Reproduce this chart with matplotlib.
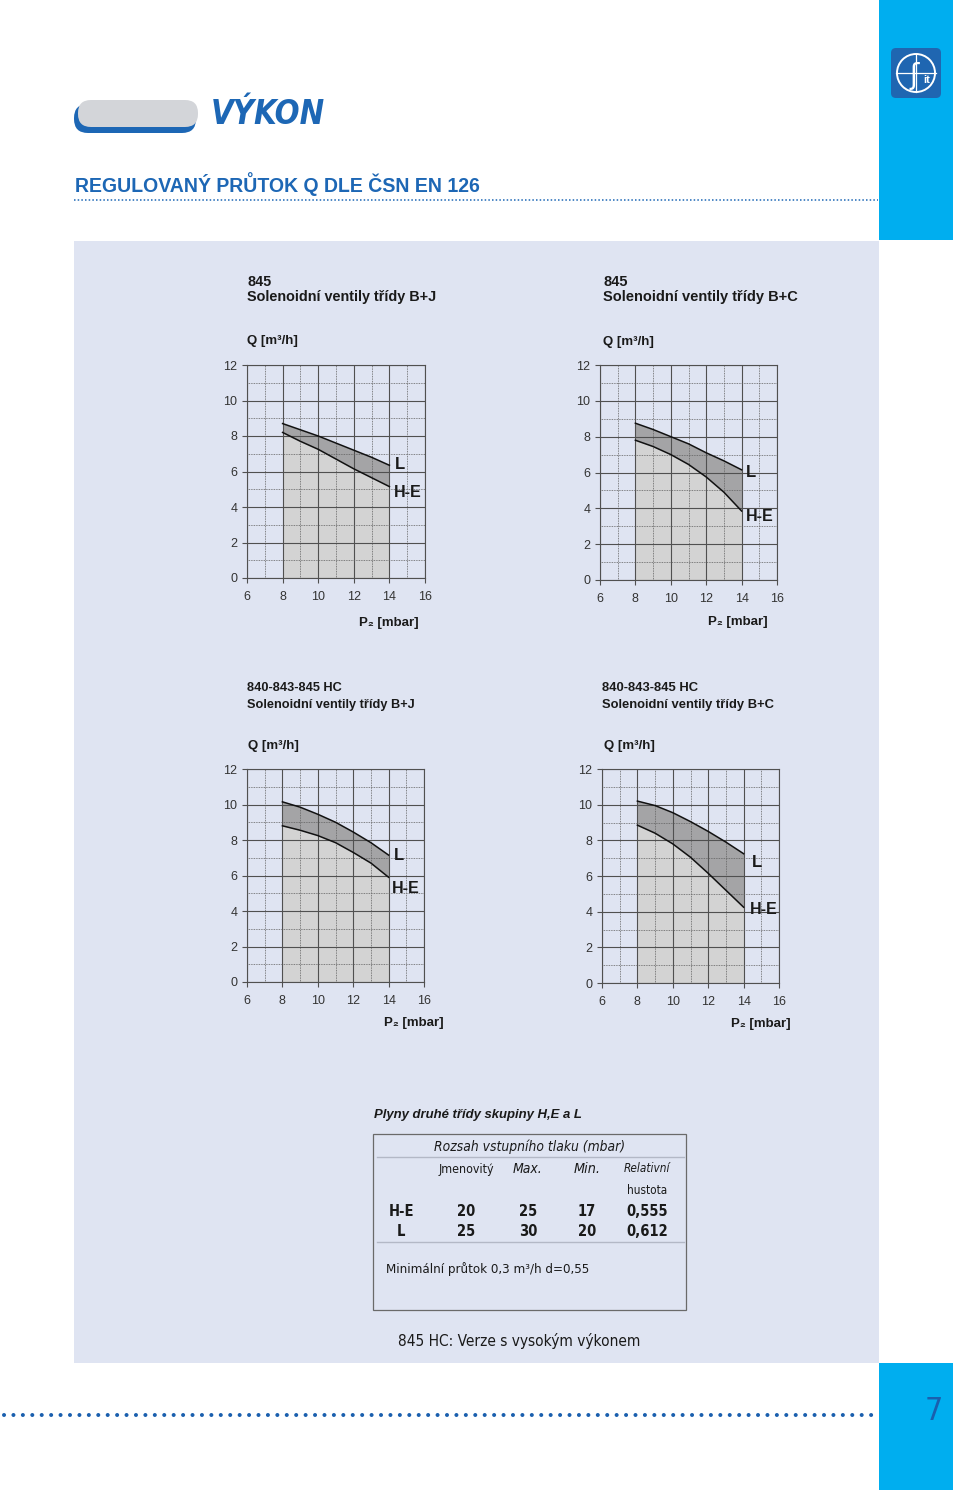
import matplotlib
matplotlib.use('Agg')
from matplotlib import pyplot as plt
from matplotlib import font_manager
from matplotlib.patches import Rectangle, FancyBboxPatch, Circle
from matplotlib.ticker import MultipleLocator

SANS = ['Liberation Sans', 'DejaVu Sans']
plt.rcParams['font.family'] = SANS

# pick a narrow face for the condensed page texts, if one is installed
names = {f.name for f in font_manager.fontManager.ttflist}
if 'Liberation Sans Narrow' in names:
    NK = dict(family=['Liberation Sans Narrow', 'DejaVu Sans'])
elif 'DejaVu Sans Condensed' in names:
    NK = dict(family=['DejaVu Sans Condensed', 'DejaVu Sans'])
elif any(f.name == 'DejaVu Sans' and f.stretch == 'condensed' for f in font_manager.fontManager.ttflist):
    NK = dict(family=['DejaVu Sans'], stretch='condensed')
else:
    NK = dict(family=SANS)

# data
p2 = [8, 9, 10, 11, 12, 13, 14]
q_845_bj_L = [8.7, 8.35, 8.0, 7.6, 7.2, 6.8, 6.35]
q_845_bj_HE = [8.2, 7.7, 7.25, 6.7, 6.15, 5.65, 5.15]
q_845_bc_L = [8.75, 8.4, 8.0, 7.6, 7.1, 6.65, 6.15]
q_845_bc_HE = [7.8, 7.45, 7.0, 6.45, 5.75, 4.9, 3.85]
q_hc_bj_L = [10.15, 9.85, 9.45, 9.0, 8.45, 7.85, 7.15]
q_hc_bj_HE = [8.8, 8.55, 8.25, 7.85, 7.3, 6.7, 5.9]
q_hc_bc_L = [10.2, 9.95, 9.55, 9.05, 8.5, 7.9, 7.25]
q_hc_bc_HE = [8.85, 8.4, 7.8, 7.05, 6.15, 5.2, 4.25]

chart_titles = ['845', '845', '840-843-845 HC', '840-843-845 HC']
chart_subtitles = ['Solenoidní ventily třídy B+J', 'Solenoidní ventily třídy B+C',
                   'Solenoidní ventily třídy B+J', 'Solenoidní ventily třídy B+C']

gases = ['H-E', 'L']
p_nominal = ['20', '25']
p_max = ['25', '30']
p_min = ['17', '20']
rel_density = ['0,555', '0,612']

BLUE = '#1d67b5'
CYAN = '#00aeef'
PANEL = '#dfe4f2'
TXT = '#1a1a1a'

fig = plt.figure(figsize=(9.6, 14.9), dpi=100)
bg = fig.add_axes([0, 0, 1, 1])
bg.set_xlim(0, 960)
bg.set_ylim(1490, 0)
bg.axis('off')
renderer = fig.canvas.get_renderer()


def put(x, y, s, width=None, **kw):
    # text in page pixels; optionally scaled so it spans the given width
    t = bg.text(x, y, s, **kw)
    if width:
        w = t.get_window_extent(renderer).width
        t.set_fontsize(t.get_fontsize() * width / w)
    return t


# page decoration
bg.add_patch(Rectangle((879, 0), 74, 240, color=CYAN, lw=0))
bg.add_patch(Rectangle((879, 1363), 74, 127, color=CYAN, lw=0))
bg.add_patch(Rectangle((74, 241), 805, 1122, color=PANEL, lw=0))

# logo
bg.add_patch(FancyBboxPatch((894, 51), 44, 44, boxstyle='round,pad=3,rounding_size=5',
                            fc='#1f66b1', ec='none'))
bg.add_patch(Circle((916, 73), 19, fc='none', ec='white', lw=1.4))
bg.plot([896, 936], [73, 73], color='white', lw=0.9)
bg.plot([916, 916], [54, 92], color='white', lw=0.9)
bg.text(914, 76, 'ʃ', color='white', fontsize=20, ha='center', va='center', family='DejaVu Sans')
bg.text(927, 80, 'it', color='white', fontsize=8, fontweight='bold', ha='center', va='center')

# header
bg.add_patch(FancyBboxPatch((74, 104), 122, 29, boxstyle='round,pad=0,rounding_size=14',
                            fc=BLUE, ec='none'))
bg.add_patch(FancyBboxPatch((78, 100), 120, 27, boxstyle='round,pad=0,rounding_size=13',
                            fc='#d3d5d9', ec='none'))
put(211, 115, 'VÝKON', width=114, color=BLUE, fontsize=27, fontweight='bold', style='italic',
    ha='left', va='center', **NK)
put(75, 184, 'REGULOVANÝ PRŮTOK Q DLE ČSN EN 126', width=408, color=BLUE, fontsize=14.5,
    fontweight='bold', ha='left', va='center')
bg.plot([74, 878], [200, 200], color=BLUE, lw=1.1, linestyle=(0, (1, 1.4)))

# bottom dotted line and page number
bg.plot([4, 876], [1415, 1415], color='#1a5fae', lw=2.9, linestyle=(0, (0.01, 2.33)),
        dash_capstyle='round')
bg.text(934, 1412, '7', color='#1a5fae', fontsize=23, ha='center', va='center', **NK)

# charts
boxes = [(247, 365, 425, 578), (600, 365, 777, 580), (247, 769, 424, 982), (602, 769, 779, 983)]
series = [(q_845_bj_L, q_845_bj_HE), (q_845_bc_L, q_845_bc_HE),
          (q_hc_bj_L, q_hc_bj_HE), (q_hc_bc_L, q_hc_bc_HE)]
title_pos = [(247, 282, 297), (603, 282, 297), (247, 688, 705), (602, 688, 705)]
q_pos = [(247, 341), (603, 342), (248, 746), (604, 746)]
p_pos = [(419, 623), (768, 622), (444, 1023), (791, 1024)]
lab_L = [(14.28, 6.37), (14.25, 5.99), (14.3, 7.14), (14.45, 6.75)]
lab_HE = [(14.25, 4.79), (14.25, 3.53), (14.17, 5.26), (14.35, 4.13)]
sub_width = [190, 195, 169, 173]

for i, (x0, y0, x1, y1) in enumerate(boxes):
    ax = fig.add_axes([x0 / 960, 1 - y1 / 1490, (x1 - x0) / 960, (y1 - y0) / 1490])
    ax.set_facecolor('none')
    ql, qhe = series[i]
    ax.fill_between(p2, 0, qhe, color='#d3d3d3', lw=0, zorder=1)
    ax.fill_between(p2, qhe, ql, color='#a4a4a6', lw=0, zorder=1)
    ax.plot(p2, ql, color='#111111', lw=1.1, zorder=3)
    ax.plot(p2, qhe, color='#111111', lw=1.1, zorder=3)
    ax.set_xlim(6, 16)
    ax.set_ylim(0, 12)
    ax.xaxis.set_major_locator(MultipleLocator(2))
    ax.yaxis.set_major_locator(MultipleLocator(2))
    ax.xaxis.set_minor_locator(MultipleLocator(1))
    ax.yaxis.set_minor_locator(MultipleLocator(1))
    ax.set_axisbelow(False)
    ax.grid(which='major', color='#505050', lw=0.8)
    ax.grid(which='minor', color='#606060', lw=0.6, linestyle=(0, (1, 1)))
    for s in ax.spines.values():
        s.set_color('#505050')
        s.set_linewidth(0.8)
    ax.tick_params(which='major', length=3.5, width=0.8, color='#505050', labelsize=9,
                   labelcolor='#333333', pad=3.5)
    ax.tick_params(which='minor', length=0)
    ax.tick_params(axis='x', pad=6)
    ax.text(*lab_L[i], 'L', fontsize=12, fontweight='bold', ha='left', va='center', color=TXT)
    ax.text(*lab_HE[i], 'H-E', fontsize=11.5, fontweight='bold', ha='left', va='center', color=TXT)

    tx, ty1, ty2 = title_pos[i]
    sub = put(tx, ty2, chart_subtitles[i], width=sub_width[i], fontsize=10, fontweight='bold',
              ha='left', va='center', color=TXT)
    bg.text(tx, ty1, chart_titles[i], fontsize=sub.get_fontsize(), fontweight='bold', ha='left',
            va='center', color=TXT)
    bg.text(*q_pos[i], 'Q [m³/h]', fontsize=9.5, fontweight='bold', ha='left', va='center',
            color=TXT)
    bg.text(*p_pos[i], 'P₂ [mbar]', fontsize=9.5, fontweight='bold', ha='right', va='center',
            color=TXT)

# gas table
put(374, 1115, 'Plyny druhé třídy skupiny H,E a L', width=210, fontsize=10, fontweight='bold',
    style='italic', ha='left', va='center', color=TXT)
bg.add_patch(Rectangle((373, 1134), 313, 176, fc='none', ec='#6a6a6a', lw=0.9))
put(530, 1147, 'Rozsah vstupního tlaku (mbar)', width=190, fontsize=11, style='italic',
    ha='center', va='center', color=TXT, **NK)
bg.plot([377, 684], [1157, 1157], color='#b3b8c6', lw=1)
bg.plot([377, 684], [1242, 1242], color='#b3b8c6', lw=1)
col_x = [401, 466, 528, 587, 647]
put(col_x[1], 1169, 'Jmenovitý', width=56, fontsize=9.5, ha='center', va='center', color=TXT, **NK)
put(col_x[2], 1169, 'Max.', width=30, fontsize=10.5, style='italic', ha='center', va='center',
    color=TXT, **NK)
put(col_x[3], 1169, 'Min.', width=27, fontsize=10.5, style='italic', ha='center', va='center',
    color=TXT, **NK)
put(col_x[4], 1169, 'Relativní', width=46, fontsize=9, style='italic', ha='center', va='center',
    color=TXT, **NK)
put(col_x[4], 1191, 'hustota', width=40, fontsize=9, ha='center', va='center', color=TXT, **NK)
for r, y in enumerate([1211, 1232]):
    row = [gases[r], p_nominal[r], p_max[r], p_min[r], rel_density[r]]
    for c, val in enumerate(row):
        bg.text(col_x[c], y, val, fontsize=10.5, fontweight='bold', ha='center', va='center',
                color=TXT, **NK)
put(386, 1269, 'Minimální průtok 0,3 m³/h d=0,55', width=205, fontsize=10.5,
    ha='left', va='center', color=TXT, **NK)
put(519, 1341, '845 HC: Verze s vysokým výkonem', width=242, fontsize=12,
    ha='center', va='center', color=TXT, **NK)

fig.savefig('out.png', dpi=100)
